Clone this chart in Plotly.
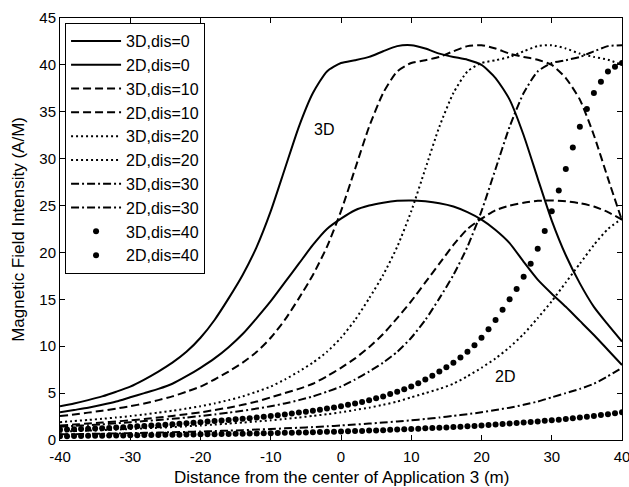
import plotly.graph_objects as go

# x positions
x_line = list(range(-40, 41, 2))
x_dot = list(range(-40, 41, 1))

# 3D series (A/M)
y3d_dis0 = [3.60, 3.90, 4.25, 4.65, 5.15, 5.70, 6.45, 7.30, 8.25, 9.40, 10.90, 12.80, 15.10, 17.60, 20.60,
            24.40, 28.90, 33.40, 37.00, 39.30, 40.20, 40.50, 40.85, 41.45, 42.00, 42.10, 41.75, 41.20, 40.85,
            40.55, 40.00, 38.60, 36.30, 32.50, 27.90, 23.40, 19.70, 16.70, 14.20, 12.30, 10.50]
y3d_dis10 = [2.55, 2.72, 2.92, 3.12, 3.35, 3.60, 3.90, 4.25, 4.65, 5.15, 5.70, 6.45, 7.30, 8.25, 9.40,
             10.90, 12.80, 15.10, 17.60, 20.60, 24.40, 28.90, 33.40, 37.00, 39.30, 40.20, 40.50, 40.85, 41.45,
             42.00, 42.10, 41.75, 41.20, 40.85, 40.55, 40.00, 38.60, 36.30, 32.50, 27.90, 23.40]
y3d_dis20 = [1.90, 2.02, 2.14, 2.26, 2.40, 2.55, 2.72, 2.92, 3.12, 3.35, 3.60, 3.90, 4.25, 4.65, 5.15,
             5.70, 6.45, 7.30, 8.25, 9.40, 10.90, 12.80, 15.10, 17.60, 20.60, 24.40, 28.90, 33.40, 37.00,
             39.30, 40.20, 40.50, 40.85, 41.45, 42.00, 42.10, 41.75, 41.20, 40.85, 40.55, 40.00]
y3d_dis30 = [1.42, 1.50, 1.58, 1.67, 1.78, 1.90, 2.02, 2.14, 2.26, 2.40, 2.55, 2.72, 2.92, 3.12, 3.35,
             3.60, 3.90, 4.25, 4.65, 5.15, 5.70, 6.45, 7.30, 8.25, 9.40, 10.90, 12.80, 15.10, 17.60,
             20.60, 24.40, 28.90, 33.40, 37.00, 39.30, 40.20, 40.50, 40.85, 41.45, 42.00, 42.10]
y3d_dis40 = [1.10, 1.12, 1.15, 1.17, 1.20, 1.23, 1.26, 1.29, 1.33, 1.37, 1.42, 1.46, 1.50, 1.54, 1.58,
             1.62, 1.67, 1.72, 1.78, 1.84, 1.90, 1.96, 2.02, 2.08, 2.14, 2.20, 2.26, 2.33, 2.40, 2.47,
             2.55, 2.63, 2.72, 2.82, 2.92, 3.02, 3.12, 3.23, 3.35, 3.47, 3.60, 3.75, 3.90, 4.05, 4.25,
             4.45, 4.65, 4.90, 5.15, 5.40, 5.70, 6.05, 6.45, 6.85, 7.30, 7.75, 8.25, 8.80, 9.40, 10.10,
             10.90, 11.80, 12.80, 13.90, 15.00, 16.10, 17.40, 18.80, 20.40, 22.30, 24.40, 26.60, 28.90,
             31.20, 33.40, 35.30, 37.00, 38.20, 39.30, 39.80, 40.20]

# 2D series (A/M)
y2d_dis0 = [2.95, 3.20, 3.45, 3.75, 4.10, 4.55, 5.00, 5.45, 6.00, 6.80, 7.70, 8.70, 9.90, 11.30, 13.00,
            14.80, 16.80, 18.80, 20.80, 22.50, 23.60, 24.50, 25.00, 25.30, 25.50, 25.55, 25.45, 25.25,
            24.90, 24.30, 23.50, 22.40, 21.00, 19.00, 17.10, 15.60, 14.20, 12.70, 11.20, 9.60, 8.00]
y2d_dis10 = [1.55, 1.65, 1.75, 1.86, 1.98, 2.10, 2.24, 2.40, 2.57, 2.75, 2.95, 3.20, 3.45, 3.75, 4.10,
             4.55, 5.00, 5.45, 6.00, 6.80, 7.70, 8.70, 9.90, 11.30, 13.00, 14.80, 16.80, 18.80, 20.80,
             22.50, 23.60, 24.50, 25.00, 25.30, 25.50, 25.55, 25.45, 25.25, 24.90, 24.30, 23.50]
y2d_dis20 = [0.91, 0.95, 1.00, 1.05, 1.11, 1.17, 1.24, 1.31, 1.38, 1.46, 1.55, 1.65, 1.75, 1.86, 1.98,
             2.10, 2.24, 2.40, 2.57, 2.75, 2.95, 3.20, 3.45, 3.75, 4.10, 4.55, 5.00, 5.45, 6.00, 6.80,
             7.70, 8.70, 9.90, 11.30, 13.00, 14.80, 16.80, 18.80, 20.80, 22.50, 23.60]
y2d_dis30 = [0.60, 0.62, 0.65, 0.67, 0.70, 0.73, 0.76, 0.79, 0.83, 0.87, 0.91, 0.95, 1.00, 1.05, 1.11,
             1.17, 1.24, 1.31, 1.38, 1.46, 1.55, 1.65, 1.75, 1.86, 1.98, 2.10, 2.24, 2.40, 2.57, 2.75,
             2.95, 3.20, 3.45, 3.75, 4.10, 4.55, 5.00, 5.45, 6.00, 6.80, 7.70]
y2d_dis40 = [0.40, 0.41, 0.42, 0.43, 0.44, 0.45, 0.46, 0.47, 0.48, 0.49, 0.50, 0.51, 0.52, 0.53, 0.54,
             0.55, 0.56, 0.57, 0.58, 0.59, 0.60, 0.61, 0.62, 0.63, 0.65, 0.66, 0.67, 0.69, 0.70, 0.72,
             0.73, 0.75, 0.76, 0.78, 0.79, 0.81, 0.83, 0.85, 0.87, 0.89, 0.91, 0.93, 0.95, 0.97, 1.00,
             1.02, 1.05, 1.08, 1.11, 1.14, 1.17, 1.20, 1.24, 1.27, 1.31, 1.34, 1.38, 1.42, 1.46, 1.50,
             1.55, 1.60, 1.65, 1.70, 1.75, 1.80, 1.86, 1.92, 1.98, 2.04, 2.10, 2.17, 2.24, 2.32, 2.40,
             2.48, 2.57, 2.66, 2.75, 2.85, 2.95]

x_ticks = [-40, -30, -20, -10, 0, 10, 20, 30, 40]
x_tick_labels = ["-40", "-30", "-20", "-10", "0", "10", "20", "30", "40"]
y_ticks = [0, 5, 10, 15, 20, 25, 30, 35, 40, 45]
y_tick_labels = ["0", "5", "10", "15", "20", "25", "30", "35", "40", "45"]

FONT = "Liberation Sans, Arial, Helvetica, sans-serif"
DASH = {"solid": "solid", "dash": "8px,4px", "dot": "2px,3px", "dashdot": "8px,3px,2px,3px"}

fig = go.Figure()

line_series = [
    ("3D,dis=0", y3d_dis0, "solid"),
    ("2D,dis=0", y2d_dis0, "solid"),
    ("3D,dis=10", y3d_dis10, "dash"),
    ("2D,dis=10", y2d_dis10, "dash"),
    ("3D,dis=20", y3d_dis20, "dot"),
    ("2D,dis=20", y2d_dis20, "dot"),
    ("3D,dis=30", y3d_dis30, "dashdot"),
    ("2D,dis=30", y2d_dis30, "dashdot"),
]
for name, ys, style in line_series:
    fig.add_trace(go.Scatter(
        x=x_line, y=ys, name=name, mode="lines",
        line=dict(color="black", width=2, dash=DASH[style], shape="spline", smoothing=0.6),
    ))

for name, ys in [("3D,dis=40", y3d_dis40), ("2D,dis=40", y2d_dis40)]:
    fig.add_trace(go.Scatter(
        x=x_dot, y=ys, name=name, mode="markers",
        marker=dict(color="black", size=6, symbol="circle"),
    ))

fig.add_annotation(x=-2.4, y=33.1, text="3D", showarrow=False,
                   font=dict(family=FONT, size=16, color="black"))
fig.add_annotation(x=23.4, y=6.8, text="2D", showarrow=False,
                   font=dict(family=FONT, size=16, color="black"))

# axis titles (as text placed relative to the plot area)
fig.add_annotation(xref="paper", yref="paper", x=0.5, y=-0.088,
                   text="Distance from the center of Application 3 (m)", showarrow=False,
                   xanchor="center", yanchor="middle",
                   font=dict(family=FONT, size=17, color="black"))
fig.add_annotation(xref="paper", yref="paper", x=-0.075, y=0.5, textangle=-90,
                   text="Magnetic Field Intensity (A/M)", showarrow=False,
                   xanchor="center", yanchor="middle",
                   font=dict(family=FONT, size=17, color="black"))

axis_common = dict(
    showgrid=False, zeroline=False, showline=True, linecolor="black", linewidth=1,
    mirror="ticks", ticks="inside", ticklen=5, tickcolor="black", automargin=False,
    ticklabeloverflow="allow",
    tickfont=dict(family=FONT, size=15, color="black"),
)

fig.update_layout(
    width=629, height=487,
    margin=dict(l=60, r=7, t=18, b=47),
    paper_bgcolor="white", plot_bgcolor="white",
    font=dict(family=FONT, size=16, color="black"),
    showlegend=True,
    legend=dict(
        x=0.009, y=0.988, xanchor="left", yanchor="top",
        bgcolor="white", bordercolor="black", borderwidth=1,
        font=dict(family=FONT, size=16, color="black"),
        itemwidth=50, tracegroupgap=0,
    ),
    xaxis=dict(range=[-40, 40], tickvals=x_ticks, ticktext=x_tick_labels,
               ticklabelstandoff=3, **axis_common),
    yaxis=dict(range=[0, 45], tickvals=y_ticks, ticktext=y_tick_labels, **axis_common),
)

fig.write_html("out.html", config={"displayModeBar": False},
               post_script="document.body.style.margin='0';")
